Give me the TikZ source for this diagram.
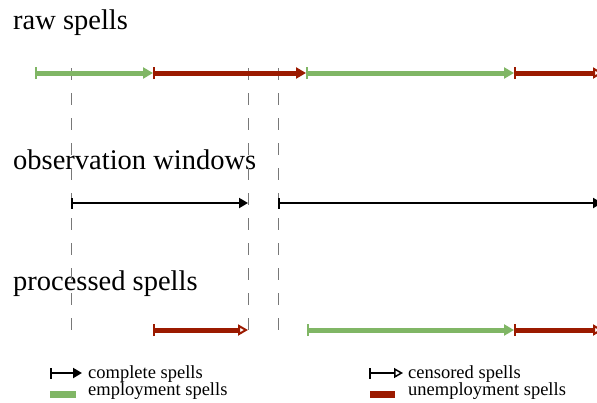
\documentclass[tikz,border=0pt]{standalone}
\usepackage{fontspec}
\setmainfont{Liberation Serif}
\usetikzlibrary{arrows.meta}
\definecolor{empgreen}{RGB}{128,182,101}
\definecolor{unempred}{RGB}{155,26,0}
\definecolor{dashgray}{RGB}{120,120,120}
\tikzset{
  spell/.style={line width=5pt},
  emp/.style={spell, draw=empgreen},
  unemp/.style={spell, draw=unempred},
  win/.style={line width=2pt, draw=black},
  cmpl/.style={{Bar[width=12pt,line width=1.5pt]}-{Triangle[length=10pt,width=11pt]}},
  cens/.style={{Bar[width=12pt,line width=1.5pt]}-{Triangle[open,length=10pt,width=11pt,line width=2pt]}},
  wincmpl/.style={{Bar[width=11pt,line width=1.5pt]}-{Triangle[length=9pt,width=10pt]}},
  wincens/.style={{Bar[width=11pt,line width=1.5pt]}-{Triangle[open,length=9pt,width=10pt,line width=1.5pt]}},
  winline/.style={line width=1pt, draw=dashgray, dash pattern=on 12pt off 13pt},
  title/.style={anchor=base west, inner sep=0pt, font=\fontsize{28.5}{30}\selectfont},
  legtext/.style={anchor=base west, inner sep=0pt, font=\fontsize{18.5}{19}\selectfont},
}
\begin{document}
\begin{tikzpicture}[x=1pt,y=-1pt]
\useasboundingbox (0,0) rectangle (597,402);
\clip (0,0) rectangle (597,402);
% titles
\node[title] (traw) at (13,29) {raw spells};
\node[title] (twin) at (13,169) {observation windows};
\node[title] (tproc) at (13,290) {processed spells};
% window boundaries
\coordinate (da0) at (71,68);  \coordinate (da1) at (71,336);
\coordinate (db0) at (248,68); \coordinate (db1) at (248,336);
\coordinate (dc0) at (278,68); \coordinate (dc1) at (278,336);
\draw[winline] (da0) -- (da1);
\draw[winline] (db0) -- (db1);
\draw[winline] (dc0) -- (dc1);
% raw spells
\coordinate (r0) at (35,73);
\coordinate (r1) at (153,73);
\coordinate (r2) at (306,73);
\coordinate (r3) at (514,73);
\coordinate (r4) at (603,73);
\draw[emp, cmpl] (r0) -- (r1);
\draw[unemp, cmpl] (r1) -- (r2);
\draw[emp, cmpl] (r2) -- (r3);
\draw[unemp, cens] (r3) -- (r4);
% observation windows
\coordinate (w0) at (71,203);
\coordinate (w1) at (248,203);
\coordinate (w2) at (278,203);
\coordinate (w3) at (602,203);
\draw[win, wincmpl] (w0) -- (w1);
\draw[win, wincmpl] (w2) -- (w3);
% processed spells
\coordinate (p0) at (153,330);
\coordinate (p1) at (248,330);
\coordinate (p2) at (307,330);
\coordinate (p3) at (514,330);
\coordinate (p4) at (603,330);
\draw[unemp, cens] (p0) -- (p1);
\draw[emp, cmpl] (p2) -- (p3);
\draw[unemp, cens] (p3) -- (p4);
% legend
\coordinate (la0) at (50,373); \coordinate (la1) at (82,373);
\draw[win, wincmpl] (la0) -- (la1);
\node[legtext] (lt1) at (88,378.5) {complete spells};
\coordinate (lb0) at (369,373); \coordinate (lb1) at (403,373);
\draw[win, wincens] (lb0) -- (lb1);
\node[legtext] (lt2) at (408,378.5) {censored spells};
\fill[empgreen] (50,390.5) rectangle (76,398);
\node[legtext] (lt3) at (88,395.5) {employment spells};
\fill[unempred] (370,390.5) rectangle (395,398);
\node[legtext] (lt4) at (408,395.5) {unemployment spells};
\end{tikzpicture}
\end{document}
